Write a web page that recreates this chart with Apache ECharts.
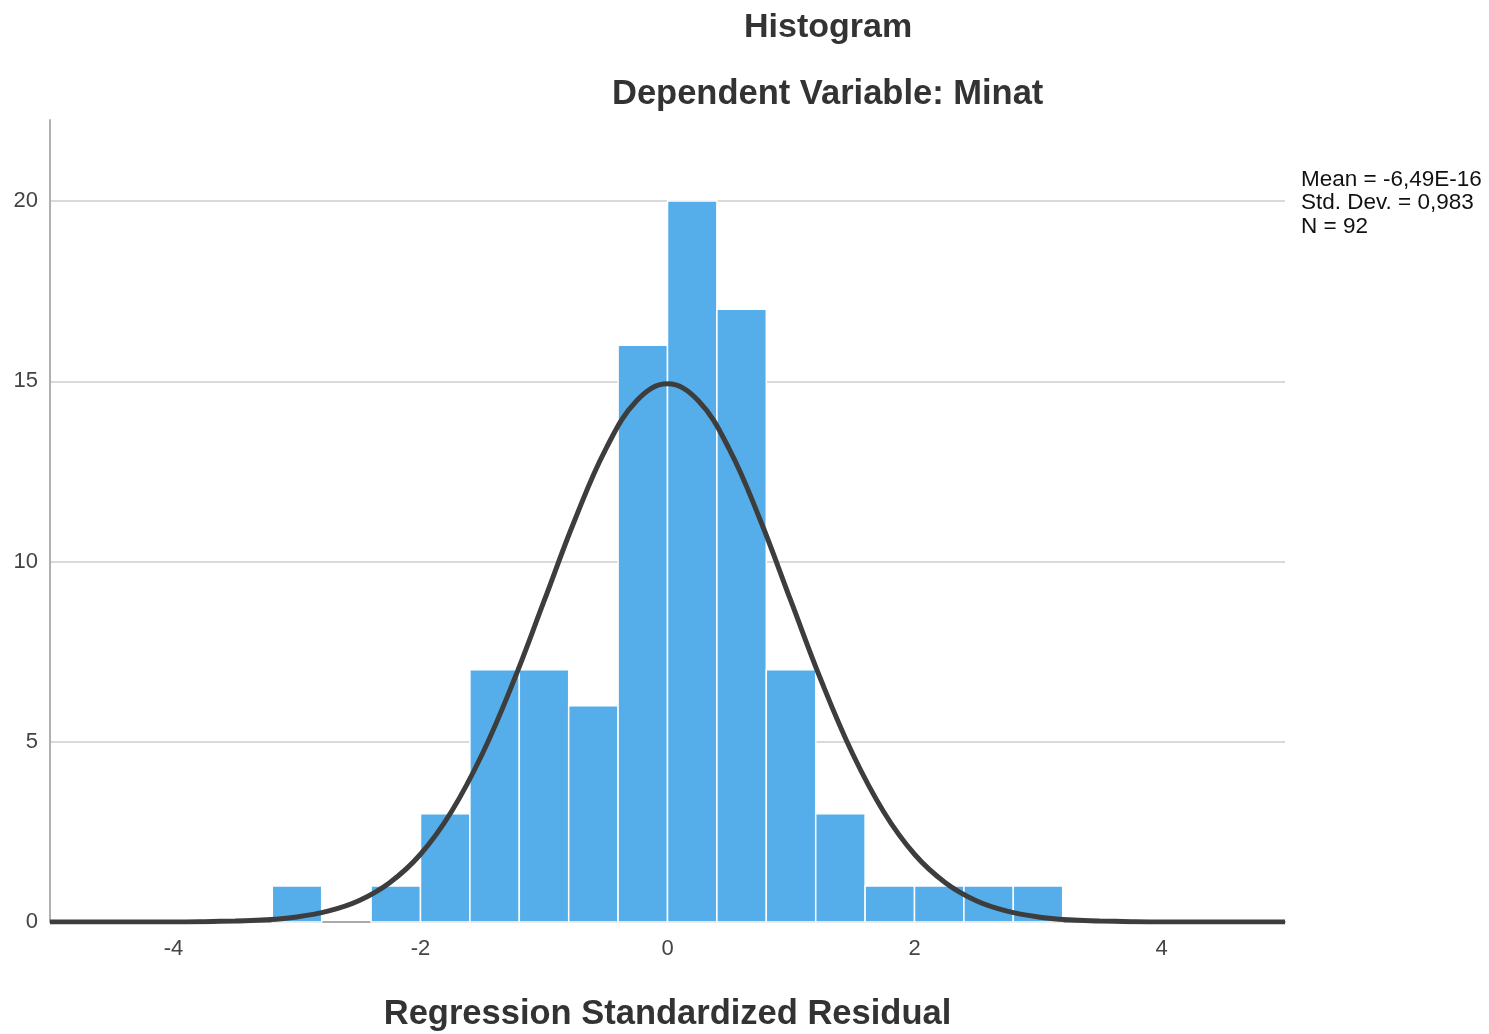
<!DOCTYPE html>
<html>
<head>
<meta charset="utf-8">
<script src="https://cdn.jsdelivr.net/npm/echarts@6/dist/echarts.min.js"></script>
<style>
html,body{margin:0;padding:0;background:#fff;}
#chart{width:1489px;height:1034px;}
</style>
</head>
<body>
<div id="chart"></div>
<script>
// Histogram bins (lower edge, upper edge) and counts
const binStart = [-3.2, -2.8, -2.4, -2.0, -1.6, -1.2, -0.8, -0.4, 0.0, 0.4, 0.8, 1.2, 1.6, 2.0, 2.4, 2.8];
const binEnd   = [-2.8, -2.4, -2.0, -1.6, -1.2, -0.8, -0.4, 0.0, 0.4, 0.8, 1.2, 1.6, 2.0, 2.4, 2.8, 3.2];
const counts   = [1, 0, 1, 3, 7, 7, 6, 16, 20, 17, 7, 3, 1, 1, 1, 1];

// Normal curve
const curveX = [-5,-4.75,-4.5,-4.25,-4,-3.75,-3.5,-3.25,-3,-2.75,-2.5,-2.25,-2,-1.75,-1.5,-1.25,-1,-0.75,-0.5,-0.25,0,
                0.25,0.5,0.75,1,1.25,1.5,1.75,2,2.25,2.5,2.75,3,3.25,3.5,3.75,4,4.25,4.5,4.75,5];
const curveY = [0,0,0,0,0,0.01,0.03,0.06,0.14,0.30,0.59,1.09,1.88,3.06,4.66,6.65,8.90,11.16,13.12,14.46,14.93,
                14.46,13.12,11.16,8.90,6.65,4.66,3.06,1.88,1.09,0.59,0.30,0.14,0.06,0.03,0.01,0,0,0,0,0];

const xTicks = [-4, -2, 0, 2, 4];
const yTicks = [0, 5, 10, 15, 20];

const titleText = 'Histogram';
const subtitleText = 'Dependent Variable: Minat';
const xName = 'Regression Standardized Residual';
const statsLines = ['Mean = -6,49E-16', 'Std. Dev. = 0,983', 'N = 92'];

const chart = echarts.init(document.getElementById('chart'));

const barData = binStart.map((s, i) => [s, binEnd[i], counts[i]]);
const curveData = curveX.map((x, i) => [x, curveY[i]]);

const option = {
  backgroundColor: '#ffffff',
  animation: false,
  grid: { left: 50, right: 204, top: 120, bottom: 112, outerBoundsMode: 'none', containLabel: false },
  xAxis: {
    type: 'value',
    min: -5, max: 5, interval: 1,
    axisLine: { show: true, onZero: false, lineStyle: { color: '#aaaaaa', width: 2 } },
    axisTick: { show: false },
    splitLine: { show: false },
    axisLabel: {
      margin: 16,
      fontFamily: 'Liberation Sans, Arial, sans-serif',
      fontSize: 22, color: '#444444',
      formatter: v => (xTicks.indexOf(v) >= 0 ? String(v) : '')
    },
    name: xName,
    nameLocation: 'middle',
    nameGap: 75,
    nameTextStyle: { fontFamily: 'Liberation Sans, Arial, sans-serif', fontSize: 34.5, fontWeight: 'bold', color: '#333333' }
  },
  yAxis: {
    type: 'value',
    min: 0, max: 22.25, interval: 5,
    axisLine: { show: true, onZero: false, lineStyle: { color: '#b0b0b0', width: 2 } },
    axisTick: { show: false },
    splitLine: { show: true, lineStyle: { color: ['#cccccc','#cccccc','#cccccc','#cccccc','#cccccc','rgba(0,0,0,0)'], width: 1.5 } },
    axisLabel: {
      margin: 12,
      fontFamily: 'Liberation Sans, Arial, sans-serif',
      fontSize: 22, color: '#444444',
      formatter: v => (yTicks.indexOf(v) >= 0 ? String(v) : '')
    }
  },
  graphic: [
    { type: 'text', left: 744, top: 11, style: { text: titleText, font: 'bold 34px "Liberation Sans", Arial, sans-serif', fill: '#333333' } },
    { type: 'text', left: 612, top: 77, style: { text: subtitleText, font: 'bold 34.5px "Liberation Sans", Arial, sans-serif', fill: '#333333' } },
    { type: 'text', left: 1301, top: 168, style: { text: statsLines.join('\n'), font: '22.5px "Liberation Sans", Arial, sans-serif', lineHeight: 23.5, fill: '#111111' } }
  ],
  series: [
    {
      type: 'custom',
      z: 2,
      data: barData,
      encode: { x: [0, 1], y: 2 },
      renderItem: function (params, api) {
        const h = api.value(2);
        if (!h) return null;
        const p0 = api.coord([api.value(0), h]);
        const p1 = api.coord([api.value(1), 0]);
        return {
          type: 'rect',
          shape: { x: p0[0], y: p0[1], width: p1[0] - p0[0], height: p1[1] - p0[1] },
          style: { fill: '#55aeea', stroke: '#ffffff', lineWidth: 1.5 }
        };
      }
    },
    {
      type: 'line',
      z: 3,
      data: curveData,
      smooth: 0.4,
      symbol: 'none',
      lineStyle: { color: '#3d3d3d', width: 5 }
    }
  ]
};
chart.setOption(option);
</script>
</body>
</html>
